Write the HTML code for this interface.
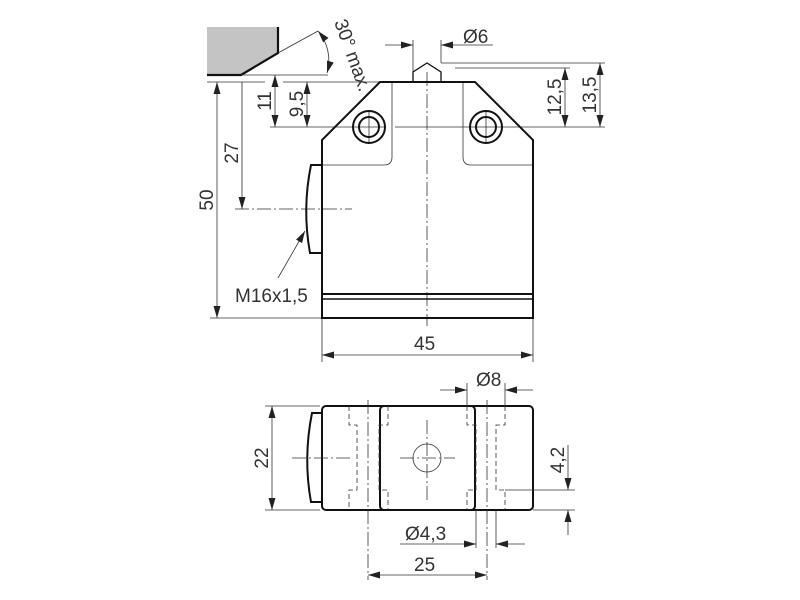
<!DOCTYPE html>
<html><head><style>
html,body{margin:0;padding:0;background:#fff;}
svg{display:block;}
text{font-family:"Liberation Sans",sans-serif;fill:#333;font-size:19px;}
</style></head><body>
<svg width="800" height="600" viewBox="0 0 800 600" xmlns="http://www.w3.org/2000/svg">
<defs>
<marker id="a" viewBox="0 0 12 7" refX="12" refY="3.5" markerWidth="12" markerHeight="7" orient="auto-start-reverse" markerUnits="userSpaceOnUse"><path d="M0,0 L12,3.5 L0,7 z" fill="#222"/></marker>
</defs>
<g stroke="#333" stroke-width="0.8" fill="none">
<polygon points="207,27 278,27 278,53 241,75 207,75" fill="#c4c4c4" stroke="none"/>
<path d="M278,27 L278,53 L241,75 L207,75" stroke="#111" stroke-width="2.2"/>
<line x1="278" y1="53" x2="318" y2="31"/>
<line x1="241" y1="75" x2="328" y2="75"/>
<path d="M318,31 A45,45 0 0 1 327,73" marker-start="url(#a)" marker-end="url(#a)"/>
<line x1="207" y1="82" x2="265" y2="82"/>
<line x1="283" y1="82" x2="380" y2="82"/>
<line x1="270" y1="127" x2="352" y2="127"/>
<line x1="395" y1="127" x2="605" y2="127"/>
<line x1="441" y1="63" x2="605" y2="63"/>
<line x1="455" y1="68" x2="570" y2="68"/>
<line x1="210" y1="318" x2="322" y2="318"/>
<line x1="217" y1="82" x2="217" y2="318" marker-start="url(#a)" marker-end="url(#a)"/>
<line x1="242" y1="82" x2="242" y2="209" marker-end="url(#a)"/>
<line x1="275" y1="75" x2="275" y2="127" marker-start="url(#a)" marker-end="url(#a)"/>
<line x1="307" y1="82" x2="307" y2="127" marker-start="url(#a)" marker-end="url(#a)"/>
<line x1="565" y1="68" x2="565" y2="127" marker-start="url(#a)" marker-end="url(#a)"/>
<line x1="600" y1="63" x2="600" y2="127" marker-start="url(#a)" marker-end="url(#a)"/>
<line x1="413" y1="40" x2="413" y2="72"/>
<line x1="441" y1="40" x2="441" y2="63"/>
<line x1="385" y1="45" x2="413" y2="45" marker-end="url(#a)"/>
<line x1="493" y1="45" x2="441" y2="45" marker-end="url(#a)"/>
<line x1="322" y1="318" x2="322" y2="362"/>
<line x1="533" y1="318" x2="533" y2="362"/>
<line x1="322" y1="355" x2="533" y2="355" marker-start="url(#a)" marker-end="url(#a)"/>
<line x1="278" y1="278" x2="305" y2="231" marker-end="url(#a)"/>
<line x1="427" y1="72" x2="427" y2="326" stroke-dasharray="14,3,2,3"/>
<line x1="235" y1="209" x2="352" y2="209" stroke-dasharray="14,3,2,3"/>
<line x1="352" y1="127" x2="386" y2="127"/>
<line x1="369" y1="110" x2="369" y2="144"/>
<line x1="486" y1="110" x2="486" y2="144"/>
<path d="M392,82 L392,157 Q392,165 384,165 L322,165"/>
<path d="M463,82 L463,157 Q463,165 471,165 L533,165"/>
</g>
<g stroke="#111" stroke-width="2" fill="none">
<path d="M380,82 L475,82 L533,140 L533,318 L322,318 L322,140 Z"/>
<line x1="322" y1="294" x2="533" y2="294"/>
<line x1="322" y1="299" x2="533" y2="299" stroke-width="1.5"/>
<path d="M413,82 L413,72 L427,63 L441,72 L441,82" stroke-width="1.3"/>
<circle cx="369" cy="127" r="16"/><circle cx="369" cy="127" r="10"/>
<circle cx="486" cy="127" r="16"/><circle cx="486" cy="127" r="10"/>
<path d="M322,165 L311,165 Q302,209 310,253 L322,253"/>
<rect x="322" y="406" width="211" height="104" rx="4"/>
<rect x="380" y="406" width="95" height="104" rx="4"/>
<path d="M322,413 L312,413 Q303,458 311,502 L322,502"/>
</g>
<g stroke="#333" stroke-width="0.8" fill="none">
<circle cx="427" cy="458" r="14"/>
<line x1="400" y1="458" x2="455" y2="458" stroke-dasharray="14,3,2,3"/>
<line x1="427" y1="420" x2="427" y2="500" stroke-dasharray="14,3,2,3"/>
<line x1="292" y1="458" x2="352" y2="458" stroke-dasharray="14,3,2,3"/>
<line x1="368" y1="400" x2="368" y2="580" stroke-dasharray="14,3,2,3"/>
<line x1="487" y1="400" x2="487" y2="580" stroke-dasharray="14,3,2,3"/>
<g stroke-dasharray="5,3">
<path d="M349,406 L349,425 L357,425 L357,490 L349,490 L349,510"/>
<path d="M388,406 L388,425 L379,425 L379,490 L388,490 L388,510"/>
<path d="M467,406 L467,425 L476,425 L476,490 L467,490 L467,510"/>
<path d="M505,406 L505,425 L496,425 L496,490 L505,490 L505,510"/>
</g>
<line x1="467" y1="383" x2="467" y2="406"/>
<line x1="505" y1="383" x2="505" y2="406"/>
<line x1="440" y1="390" x2="467" y2="390" marker-end="url(#a)"/>
<line x1="533" y1="390" x2="505" y2="390" marker-end="url(#a)"/>
<line x1="265" y1="406" x2="320" y2="406"/>
<line x1="265" y1="510" x2="320" y2="510"/>
<line x1="272" y1="406" x2="272" y2="510" marker-start="url(#a)" marker-end="url(#a)"/>
<line x1="505" y1="490" x2="575" y2="490"/>
<line x1="533" y1="510" x2="575" y2="510"/>
<line x1="568" y1="445" x2="568" y2="490" marker-end="url(#a)"/>
<line x1="568" y1="535" x2="568" y2="510" marker-end="url(#a)"/>
<line x1="476" y1="510" x2="476" y2="548"/>
<line x1="496" y1="510" x2="496" y2="548"/>
<line x1="400" y1="544" x2="476" y2="544" marker-end="url(#a)"/>
<line x1="525" y1="544" x2="496" y2="544" marker-end="url(#a)"/>
<line x1="368" y1="575" x2="487" y2="575" marker-start="url(#a)" marker-end="url(#a)"/>
</g>
<text x="463" y="43">Ø6</text>
<text x="235" y="302" font-size="16">M16x1,5</text>
<text x="414" y="350">45</text>
<text x="476" y="386">Ø8</text>
<text x="405" y="540">Ø4,3</text>
<text x="414" y="571">25</text>
<text transform="translate(213,200) rotate(-90)" text-anchor="middle">50</text>
<text transform="translate(238,153) rotate(-90)" text-anchor="middle">27</text>
<text transform="translate(271,101) rotate(-90)" text-anchor="middle">11</text>
<text transform="translate(303,104) rotate(-90)" text-anchor="middle">9,5</text>
<text transform="translate(561,97) rotate(-90)" text-anchor="middle">12,5</text>
<text transform="translate(596,95) rotate(-90)" text-anchor="middle">13,5</text>
<text transform="translate(268,458) rotate(-90)" text-anchor="middle">22</text>
<text transform="translate(564,460) rotate(-90)" text-anchor="middle">4,2</text>
<text transform="translate(334,22) rotate(70)" font-size="15">30° max.</text>
</svg>
</body></html>
